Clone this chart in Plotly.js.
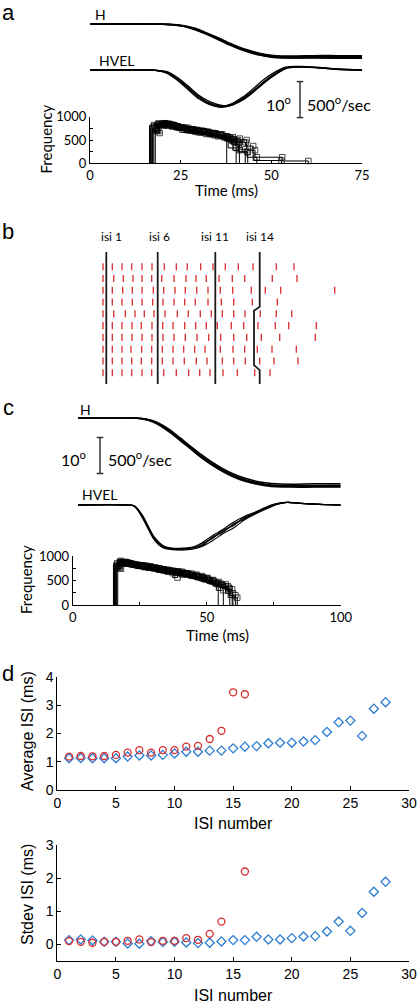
<!DOCTYPE html>
<html><head><meta charset="utf-8">
<script src="https://cdn.plot.ly/plotly-3.0.1.min.js"></script>
<style>html,body{margin:0;padding:0;background:#fff}#chart{width:418px;height:1008px}</style>
</head><body><div id="chart"></div>
<script>
// ---------------- DATA ----------------
// Panel a: eye position (deg) and velocity (deg/s) traces
const tH_a = [0, 10, 20, 23, 26, 29, 32, 35, 38, 41, 44, 47, 50, 53, 57, 62, 68, 75];
const H_a1 = [0, 0, -0.05, -0.2, -0.6, -1.4, -2.6, -3.9, -5.3, -6.6, -7.6, -8.4, -8.9, -9.1, -9.1, -9.0, -9.0, -9.0];
const H_a2 = [0, 0, -0.05, -0.25, -0.7, -1.6, -2.8, -4.2, -5.6, -6.9, -7.9, -8.7, -9.2, -9.4, -9.4, -9.3, -9.3, -9.3];
const H_a3 = [0, 0, -0.03, -0.15, -0.5, -1.2, -2.4, -3.7, -5.1, -6.4, -7.4, -8.2, -8.7, -8.9, -8.9, -8.8, -8.8, -8.8];
const H_a4 = [0, 0, -0.05, -0.2, -0.6, -1.5, -2.7, -4.0, -5.4, -6.7, -7.8, -8.6, -9.1, -9.3, -9.4, -9.4, -9.5, -9.5];
const tV_a = [0, 10, 18, 21, 24, 27, 30, 33, 36, 39, 42, 45, 48, 51, 54, 58, 63, 68, 75];
const V_a1 = [0, 0, -5, -30, -120, -240, -370, -460, -500, -480, -400, -290, -160, -50, 30, 45, 35, 15, 0];
const V_a2 = [0, 0, -5, -40, -140, -270, -400, -480, -510, -470, -380, -260, -130, -30, 40, 50, 35, 15, 0];
const V_a3 = [0, 0, -3, -20, -100, -220, -350, -440, -490, -490, -420, -310, -180, -70, 20, 40, 30, 10, 0];
const V_a4 = [0, 0, -5, -35, -130, -250, -380, -470, -520, -490, -410, -300, -170, -60, 25, 45, 30, 10, 0];

// Panel a: instantaneous frequency per trial (step times in ms, frequency in Hz)
const histA_t = [
  [16.4,17.6,18.8,20.0,21.3,22.6,23.9,25.2,26.6,28.0,29.4,30.9,32.4,34.0,35.8,37.7],
  [16.7,17.9,19.1,20.3,21.5,22.8,24.1,25.5,26.9,28.3,29.8,31.3,32.9,34.5,36.2,38.1,40.3],
  [17.0,18.2,19.4,20.6,21.8,23.1,24.4,25.7,27.1,28.5,30.0,31.5,33.1,34.7,36.5,38.5,40.8,43.5],
  [17.3,18.5,19.7,20.9,22.1,23.4,24.7,26.1,27.5,28.9,30.4,31.9,33.5,35.2,37.0,38.9,40.8,42.9,45.0,52.8],
  [17.6,18.8,20.0,21.2,22.5,23.8,25.1,26.5,27.9,29.4,30.9,32.5,34.1,35.8,37.6,39.4,41.3,43.2,45.5,53.0,60.2],
  [18.0,19.2,20.4,21.6,22.9,24.2,25.6,27.0,28.4,29.9,31.4,33.0,34.6,36.3,38.0,39.6,41.2,42.8],
  [16.5,17.7,18.9,20.1,21.4,22.7,24.0,25.4,26.8,28.2,29.7,31.2,32.8,34.4,36.0,37.7,39.4,41.2],
  [17.2,18.4,19.6,20.8,22.0,23.3,24.6,26.0,27.4,28.9,30.4,32.0,33.6,35.3,37.1,39.0,41.0,43.3,46.0]
];
const histA_f = [
  [800,850,840,820,800,790,770,740,730,720,700,680,650,600,540],
  [760,830,860,840,820,790,760,730,720,700,690,660,640,610,530,330],
  [720,840,860,850,820,780,760,760,730,700,680,650,640,620,550,430,240],
  [700,830,850,830,810,770,720,710,700,690,670,640,610,560,530,500,450,370,60],
  [690,820,840,830,790,760,760,720,700,680,670,630,620,580,560,530,500,280,130,50],
  [650,810,840,820,790,760,720,710,690,680,650,630,590,560,520,450,300],
  [820,850,830,810,790,770,720,710,700,670,660,630,600,610,580,500,280],
  [740,840,850,820,800,770,760,710,680,660,630,620,580,560,520,400,250,130]
];

// Panel b: spike raster (10 trials, spike times in raster units) and ISI markers
const rasterRows = [
  [0,9.3,19,28.7,39,49,61.3,73.3,84.3,97.7,110,122.3,135.3,150,173.3,191],
  [0,10.7,20.3,30,39,48.7,58.7,71,83,93,103.3,116,129.3,141.7,169.3,194],
  [0,9.3,19.7,29.3,39,50.3,60.7,72,82.3,93.7,105,117.3,129.7,148.3,162.3,177.7,231.7],
  [0,9.3,19,29.3,39,49.7,60,71,81.7,92.3,105,118.3,130.7,149.3,174.3],
  [0,10.7,22.3,32,41.3,51,62,74.3,85.3,97.3,108.3,119.3,130.7,142,157.3,173.3,188.7],
  [0,9.3,19,29,38.3,49,59.7,70,81.7,92.7,103.3,114.3,128.3,140.7,155,172.3,185.7,213.3],
  [0,9.3,19,29,39,49,60,71,82.3,94,105.7,117.7,130.7,143.7,158.3,176.7,212.3],
  [0,9.3,19,28,38.7,48.7,59.3,70,80.7,91.7,102,117.3,130,141.7,154.3,169,193.3],
  [0,9.3,19,28.7,38.3,48.7,59.3,70,81.3,93.3,104,119.3,130.7,142.3,156.7,171,195],
  [0,9.3,19,28.7,39,48.7,60.7,73.3,85.7,96.7,107,120,134.3,151.7,167]
];
const isiLabels = ['isi 1', 'isi 6', 'isi 11', 'isi 14'];
const isiLinesX = [
  [3.3, 3.3],
  [54.7, 54.7],
  [112.3, 112.3],
  [156.7, 156.7, 151, 151, 156.7, 156.7]
];
const isiLinesRow = [
  [-0.25, 10.96],
  [-0.25, 10.96],
  [-0.25, 10.96],
  [-0.25, 4.4, 4.74, 9.35, 9.78, 10.96]
];

// Panel c: eye position / velocity traces
const tH_c = [2, 15, 24, 27, 30, 33, 36, 40, 44, 48, 52, 56, 60, 64, 68, 72, 76, 82, 90, 100];
const H_c1 = [0, 0, 0, -0.2, -0.8, -1.9, -3.4, -5.7, -8.1, -10.5, -12.6, -14.4, -15.9, -17.0, -17.8, -18.3, -18.6, -18.7, -18.7, -18.6];
const H_c2 = [0, 0, 0, -0.3, -1.0, -2.2, -3.8, -6.1, -8.5, -10.9, -13.0, -14.8, -16.3, -17.4, -18.2, -18.7, -19.0, -19.1, -19.1, -19.1];
const H_c3 = [0, 0, 0, -0.2, -0.7, -1.7, -3.1, -5.4, -7.8, -10.1, -12.2, -14.0, -15.5, -16.6, -17.4, -17.9, -18.2, -18.3, -18.2, -18.2];
const H_c4 = [0, 0, 0, -0.25, -0.9, -2.0, -3.6, -5.9, -8.3, -10.7, -12.8, -14.6, -16.1, -17.2, -18.0, -18.5, -18.8, -18.9, -18.9, -18.9];
const tV_c = [2, 20, 23, 26, 28, 30, 32, 34, 37, 41, 45, 48, 52, 56, 60, 64, 68, 72, 76, 80, 85, 92, 100];
const V_c1 = [0, 0, -14, -160, -300, -437, -530, -585, -610, -610, -595, -560, -460, -370, -276, -184, -115, -46, 14, 37, 23, 10, 0];
const V_c2 = [0, 0, -20, -180, -320, -460, -550, -600, -620, -625, -610, -580, -500, -400, -320, -210, -130, -60, 5, 35, 25, 10, 0];
const V_c3 = [0, 0, -10, -140, -280, -420, -510, -570, -600, -600, -580, -530, -430, -340, -240, -160, -100, -30, 20, 37, 22, 8, 0];
const V_c4 = [0, 0, -15, -170, -310, -450, -540, -590, -615, -620, -600, -540, -470, -350, -290, -170, -120, -40, 15, 36, 22, 10, 0];
const V_c5 = [0, 0, -12, -150, -290, -430, -520, -580, -605, -605, -590, -570, -450, -380, -260, -200, -105, -50, 10, 38, 24, 9, 0];

// Panel c: instantaneous frequency per trial
const histC_t = [
  [15.2,16.4,17.6,18.9,20.2,21.6,23.0,24.5,26.0,27.5,29.0,30.6,32.2,33.8,35.5,37.2,38.9,40.7,42.5,44.3,46.2,48.2,50.3,52.5,54.3],
  [15.6,16.8,18.0,19.3,20.6,22.0,23.4,24.9,26.4,27.9,29.4,31.0,32.6,34.3,36.0,37.7,39.5,41.3,43.1,45.0,47.0,49.1,51.3,53.6,56.0,58.6],
  [16.0,17.2,18.4,19.7,21.0,22.4,23.8,25.3,26.8,28.3,29.9,31.5,33.1,34.8,36.5,38.3,40.1,41.9,43.8,45.7,47.7,49.8,52.0,54.4,57.0,59.8],
  [16.4,17.6,18.8,20.1,21.4,22.8,24.2,25.7,27.2,28.7,30.3,31.9,33.5,35.2,36.9,38.7,40.5,42.4,44.3,46.3,48.4,50.6,52.9,55.4,58.0,61.4],
  [16.8,18.0,19.2,20.5,21.8,23.2,24.6,26.1,27.6,29.1,30.7,32.3,33.9,35.6,37.3,39.1,40.9,42.8,44.7,46.7,48.8,51.0,53.3,55.7,58.3,60.7],
  [15.4,16.6,17.8,19.1,20.4,21.8,23.2,24.7,26.2,27.7,29.3,30.9,32.5,34.2,35.9,37.6,39.4,41.2,43.1,45.0,47.0,49.1,51.3,53.6,56.2],
  [16.2,17.4,18.6,19.9,21.2,22.6,24.0,25.5,27.0,28.5,30.1,31.7,33.3,35.0,36.7,38.5,40.3,42.2,44.1,46.0,48.0,50.1,52.3,54.6,57.1,59.5]
];
const histC_f = [
  [820,880,870,850,840,830,820,810,800,790,760,750,730,720,700,690,680,650,640,620,590,550,500,440],
  [780,900,860,850,830,820,810,800,780,770,760,740,720,700,690,680,660,640,610,580,540,490,450,400,330],
  [800,870,880,860,840,820,810,800,770,760,750,730,710,700,680,660,640,620,590,560,520,480,430,380,240],
  [760,850,870,850,830,810,800,790,780,750,730,720,690,680,660,650,630,600,580,540,520,470,430,380,150],
  [740,860,860,840,820,800,790,780,770,760,720,700,680,650,560,620,620,600,570,560,500,450,410,350,200],
  [850,880,860,860,840,820,800,790,780,760,750,730,720,700,690,670,640,630,600,570,530,500,430,300],
  [790,870,850,840,830,810,800,770,760,750,740,720,700,690,670,650,640,610,600,570,550,510,470,420,320]
];

// Panel d: ISI statistics
const isiNumBlue = [1,2,3,4,5,6,7,8,9,10,11,12,13,14,15,16,17,18,19,20,21,22,23,24,25,26,27,28];
const isiNumRed = [1,2,3,4,5,6,7,8,9,10,11,12,13,14,15,16];
const avgBlue = [1.12,1.13,1.12,1.12,1.12,1.18,1.22,1.22,1.24,1.29,1.35,1.35,1.39,1.39,1.47,1.53,1.55,1.65,1.67,1.67,1.71,1.76,2.05,2.39,2.45,1.91,2.87,3.10];
const avgRed = [1.18,1.20,1.19,1.20,1.24,1.32,1.41,1.32,1.41,1.41,1.53,1.56,1.80,2.09,3.45,3.38];
const sdBlue = [0.13,0.15,0.12,0.08,0.08,0.03,0.02,0.10,0.07,0.08,0.06,0.04,0.05,0.09,0.13,0.13,0.23,0.15,0.15,0.19,0.24,0.25,0.39,0.69,0.41,0.95,1.59,1.89];
const sdRed = [0.10,0.08,0.05,0.08,0.08,0.11,0.15,0.07,0.11,0.11,0.19,0.14,0.32,0.69,null,2.20];
const isiTicks = [0,5,10,15,20,25,30];

// ---------------- BUILD ----------------
const W = 418, Hh = 1008;
const fx = p => p / W;
const fy = p => 1 - p / Hh;
const MY = 'Lato, "Open Sans", sans-serif';
const HV = '"Liberation Sans", Arial, sans-serif';
const RED = 'rgb(215,45,45)';
const BLUE = 'rgb(45,125,210)';

const traces = [];

function addSteps(tArr, fArr, xa, ya) {
  tArr.forEach((t, k) => {
    const f = fArr[k];
    const x = [t[0]], y = [0], s = [0];
    for (let i = 1; i < t.length; i++) { x.push(t[i]); y.push(f[i - 1]); s.push(5.5); }
    x.push(t[t.length - 1]); y.push(0); s.push(0);
    traces.push({type: 'scatter', mode: 'lines+markers', x: x, y: y, xaxis: xa, yaxis: ya,
      line: {shape: 'vh', color: '#000', width: 1},
      marker: {symbol: 'square-open', size: s, color: '#000', line: {width: 1, color: '#000'}},
      hoverinfo: 'skip', cliponaxis: false});
  });
}
function addCurves(t, list, xa, ya, w) {
  list.forEach(v => traces.push({type: 'scatter', mode: 'lines', x: t, y: v, xaxis: xa, yaxis: ya,
    line: {color: '#000', width: w, shape: 'spline', smoothing: 1}, hoverinfo: 'skip'}));
}

// panel a
addCurves(tH_a, [H_a1, H_a2, H_a3, H_a4], 'x2', 'y2', 1.6);
addCurves(tV_a, [V_a1, V_a2, V_a3, V_a4], 'x2', 'y3', 1.3);
addSteps(histA_t, histA_f, 'x', 'y');

// panel b
(function () {
  const x = [], y = [];
  rasterRows.forEach((row, r) => row.forEach(s => { x.push(s, s, null); y.push(r + 1 - 0.3, r + 1 + 0.3, null); }));
  traces.push({type: 'scatter', mode: 'lines', x: x, y: y, xaxis: 'x4', yaxis: 'y4',
    line: {color: RED, width: 1.3}, hoverinfo: 'skip'});
  isiLinesX.forEach((lx, i) => traces.push({type: 'scatter', mode: 'lines', x: lx, y: isiLinesRow[i],
    xaxis: 'x4', yaxis: 'y4', line: {color: '#1a1a1a', width: 1.8}, hoverinfo: 'skip'}));
})();

// panel c
addCurves(tH_c, [H_c1, H_c2, H_c3, H_c4], 'x6', 'y6', 1.6);
addCurves(tV_c, [V_c1, V_c2, V_c3, V_c4, V_c5], 'x6', 'y7', 1.1);
addSteps(histC_t, histC_f, 'x5', 'y5');

// panel d
traces.push({type: 'scatter', mode: 'markers', x: isiNumBlue, y: avgBlue, xaxis: 'x7', yaxis: 'y8',
  marker: {symbol: 'diamond-open', size: 7, color: BLUE, line: {width: 1.3, color: BLUE}}, cliponaxis: false});
traces.push({type: 'scatter', mode: 'markers', x: isiNumRed, y: avgRed, xaxis: 'x7', yaxis: 'y8',
  marker: {symbol: 'circle-open', size: 7, color: RED, line: {width: 1.3, color: RED}}, cliponaxis: false});
traces.push({type: 'scatter', mode: 'markers', x: isiNumBlue, y: sdBlue, xaxis: 'x8', yaxis: 'y9',
  marker: {symbol: 'diamond-open', size: 7, color: BLUE, line: {width: 1.3, color: BLUE}}, cliponaxis: false});
traces.push({type: 'scatter', mode: 'markers', x: isiNumRed, y: sdRed, xaxis: 'x8', yaxis: 'y9',
  marker: {symbol: 'circle-open', size: 7, color: RED, line: {width: 1.3, color: RED}}, cliponaxis: false});

// axes
const hidden = {visible: false, showgrid: false, zeroline: false, fixedrange: true};
function visAxis(extra, fam, size) {
  return Object.assign({showline: true, linecolor: '#000', linewidth: 1, ticks: 'inside', ticklen: 3,
    tickcolor: '#000', tickwidth: 1, showgrid: false, zeroline: false, fixedrange: true,
    tickfont: {family: fam, size: size, color: '#000'}}, extra);
}
const minorTicks = d => ({tick0: 0, dtick: d, ticks: 'inside', ticklen: 3, tickcolor: '#000', tickwidth: 1, showgrid: false});
const rowPx = 11.78, row1 = 266.7;
const rowAt = p => 1 + (p - row1) / rowPx;

const layout = {
  width: W, height: Hh, margin: {l: 0, r: 0, t: 0, b: 0, pad: 0},
  paper_bgcolor: '#fff', plot_bgcolor: 'rgba(0,0,0,0)', showlegend: false,
  // a histogram
  xaxis: visAxis({domain: [fx(90), fx(362)], range: [0, 75], anchor: 'y', tickvals: [0, 25, 50, 75]}, MY, 13),
  yaxis: visAxis({domain: [fy(163.3), fy(116.7)], range: [0, 1000], anchor: 'x',
    tickvals: [0, 500, 1000], minor: minorTicks(250)}, MY, 13),
  // a traces
  xaxis2: Object.assign({domain: [fx(90), fx(362)], range: [0, 75], anchor: 'y2'}, hidden),
  yaxis2: Object.assign({domain: [fy(200), fy(0)], range: [(24 - 200) / 3.6, 24 / 3.6], anchor: 'x2'}, hidden),
  yaxis3: Object.assign({overlaying: 'y2', range: [-(200 - 70) * 13.9, 70 * 13.9], anchor: 'x2'}, hidden),
  // b raster
  xaxis4: Object.assign({domain: [fx(95), fx(345)], range: [-8, 242], anchor: 'y4'}, hidden),
  yaxis4: Object.assign({domain: [fy(390), fy(225)], range: [rowAt(390), rowAt(225)], anchor: 'x4'}, hidden),
  // c histogram
  xaxis5: visAxis({domain: [fx(72.7), fx(340.7)], range: [0, 100], anchor: 'y5',
    tickvals: [0, 50, 100], minor: minorTicks(25)}, MY, 13),
  yaxis5: visAxis({domain: [fy(605), fy(556)], range: [0, 1000], anchor: 'x5',
    tickvals: [0, 500, 1000], minor: minorTicks(250)}, MY, 13),
  // c traces
  xaxis6: Object.assign({domain: [fx(72.7), fx(340.7)], range: [0, 100], anchor: 'y6'}, hidden),
  yaxis6: Object.assign({domain: [fy(560), fy(395)], range: [(418.3 - 560) / 3.6, (418.3 - 395) / 3.6], anchor: 'x6'}, hidden),
  yaxis7: Object.assign({overlaying: 'y6', range: [-(560 - 505) * 13.9, (505 - 395) * 13.9], anchor: 'x6'}, hidden),
  // d top
  xaxis7: visAxis({domain: [fx(57.3), fx(409)], range: [0, 30], anchor: 'y8', tickvals: isiTicks, ticklen: 4}, HV, 14),
  yaxis8: visAxis({domain: [fy(790), fy(676.7)], range: [0, 4], anchor: 'x7', tickvals: [0, 1, 2, 3, 4], ticklen: 4}, HV, 14),
  // d bottom
  xaxis8: visAxis({domain: [fx(57.3), fx(409)], range: [0, 30], anchor: 'y9', tickvals: isiTicks, ticklen: 4}, HV, 14),
  yaxis9: visAxis({domain: [fy(961), fy(845)], range: [-0.5, 3], anchor: 'x8', tickvals: [0, 1, 2, 3], ticklen: 4}, HV, 14),
  shapes: [],
  annotations: []
};

// scale bars
function scaleBar(xa, ya, t, y0, y1, cap) {
  const st = {type: 'line', xref: xa, yref: ya, line: {color: '#333', width: 1.5}};
  layout.shapes.push(Object.assign({x0: t, x1: t, y0: y0, y1: y1}, st));
  layout.shapes.push(Object.assign({x0: t - cap, x1: t + cap, y0: y0, y1: y0}, st));
  layout.shapes.push(Object.assign({x0: t - cap, x1: t + cap, y0: y1, y1: y1}, st));
}
scaleBar('x2', 'y2', 57.9, -16, -26, 0.9);
scaleBar('x6', 'y6', 10.2, -5.3, -15.3, 1.25);

function txt(text, px, py, opt) {
  layout.annotations.push(Object.assign({text: text, x: fx(px), y: fy(py), xref: 'paper', yref: 'paper',
    showarrow: false, xanchor: 'center', yanchor: 'middle', font: {family: MY, size: 15, color: '#000'}}, opt || {}));
}
// panel letters
txt('a', 8, 13, {font: {family: HV, size: 22, color: '#000'}});
txt('b', 8, 232, {font: {family: HV, size: 22, color: '#000'}});
txt('c', 8, 407, {font: {family: HV, size: 22, color: '#000'}});
txt('d', 8, 673, {font: {family: HV, size: 22, color: '#000'}});
// panel a texts
txt('H', 93, 15, {xanchor: 'left', font: {family: MY, size: 14, color: '#000'}});
txt('HVEL', 96.5, 60, {xanchor: 'left', font: {family: MY, size: 14, color: '#000'}});
txt('10<sup>o</sup>', 293, 104, {xanchor: 'right', font: {family: MY, size: 16, color: '#000'}});
txt('500<sup>o</sup>/sec', 305, 104, {xanchor: 'left', font: {family: MY, size: 16, color: '#000'}});
txt('Time (ms)', 226, 189.5);
txt('Frequency', 45.5, 139, {textangle: -90});
// panel b labels
isiLabels.forEach((lab, i) => {
  layout.annotations.push({text: lab, x: isiLinesX[i][0], y: rowAt(237), xref: 'x4', yref: 'y4',
    xshift: i === 0 ? 5 : (i === 1 ? 2 : 0),
    showarrow: false, xanchor: 'center', yanchor: 'middle', font: {family: MY, size: 12, color: '#000'}});
});
// panel c texts
txt('H', 78.3, 409.5, {xanchor: 'left', font: {family: MY, size: 14, color: '#000'}});
txt('HVEL', 80, 494.7, {xanchor: 'left', font: {family: MY, size: 14, color: '#000'}});
txt('10<sup>o</sup>', 88, 459, {xanchor: 'right', font: {family: MY, size: 16, color: '#000'}});
txt('500<sup>o</sup>/sec', 106, 459, {xanchor: 'left', font: {family: MY, size: 16, color: '#000'}});
txt('Time (ms)', 218, 635);
txt('Frequency', 26, 580, {textangle: -90});
// panel d titles
txt('ISI number', 233, 823, {font: {family: HV, size: 16, color: '#000'}});
txt('Average ISI (ms)', 27, 731, {textangle: -90, font: {family: HV, size: 16, color: '#000'}});
txt('ISI number', 233, 995, {font: {family: HV, size: 16, color: '#000'}});
txt('Stdev ISI (ms)', 27, 895, {textangle: -90, font: {family: HV, size: 16, color: '#000'}});

Plotly.newPlot('chart', traces, layout, {staticPlot: true, displayModeBar: false});
</script>
</body></html>
